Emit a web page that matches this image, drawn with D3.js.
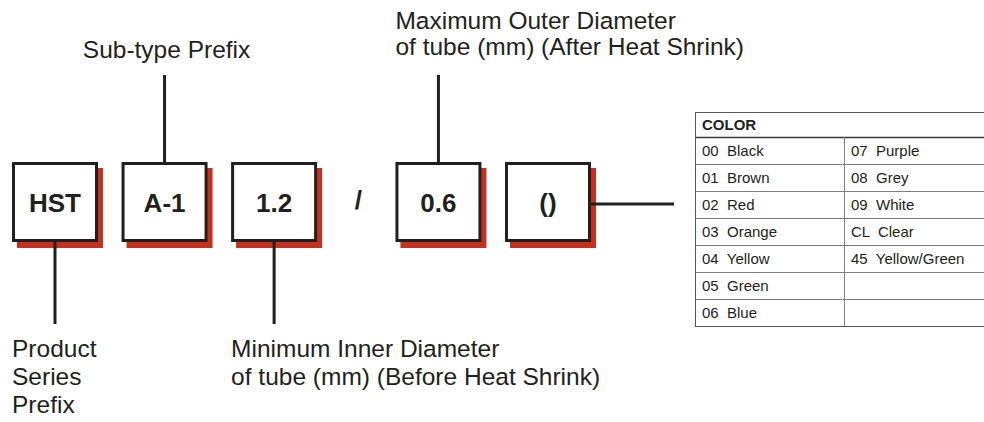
<!DOCTYPE html>
<html>
<head>
<meta charset="utf-8">
<script src="https://cdn.jsdelivr.net/npm/d3@7"></script>
<style>
    body { margin: 0; background: #fff; }
    svg { display: block; font-family: "Liberation Sans", Arial, Helvetica, sans-serif; }
</style>
</head>
<body>
<svg class="partno"></svg>
<script>
(function () {
    // part number segments, left to right
    const segments = ["HST", "A-1", "1.2", "0.6", "()"];
    const separator = "/";
    const separatorAfter = 2;

    // callouts: which segment, which side, label lines
    const calloutSegment = [0, 1, 2, 3];
    const calloutSide = ["below", "above", "below", "above"];
    const calloutLines = [
        ["Product", "Series", "Prefix"],
        ["Sub-type Prefix"],
        ["Minimum Inner Diameter", "of tube (mm) (Before Heat Shrink)"],
        ["Maximum Outer Diameter", "of tube (mm) (After Heat Shrink)"]
    ];

    // color code table
    const tableTitle = "COLOR";
    const colorCodesLeft = ["00  Black", "01  Brown", "02  Red", "03  Orange", "04  Yellow", "05  Green", "06  Blue"];
    const colorCodesRight = ["07  Purple", "08  Grey", "09  White", "CL  Clear", "45  Yellow/Green", "", ""];

    const width = 984, height = 422;
    const ink = "#231f20", shadow = "#c4321f";
    const boxW = 86, boxH = 80, boxTop = 162;
    const labelSize = 24.5;

    let svg = d3.select("svg.partno")
        .attr("width", width)
        .attr("height", height);

    // slot index -> box centre (gap of half a slot for the separator)
    let slot = function (i) { return i + (i > separatorAfter ? 0.5 : 0); };
    let x = d3.scaleLinear().domain([0, slot(segments.length - 1)]).range([55, 548]);

    let boxes = svg.append("g").attr("class", "boxes")
        .selectAll("g")
        .data(segments)
        .enter().append("g")
        .attr("transform", function (d, i) { return "translate(" + (x(slot(i)) - boxW / 2) + "," + boxTop + ")"; });

    boxes.append("rect")
        .attr("x", 5).attr("y", 6)
        .attr("width", boxW).attr("height", boxH)
        .attr("fill", shadow);

    boxes.append("rect")
        .attr("x", 1.5).attr("y", 1.5)
        .attr("width", boxW - 3).attr("height", boxH - 3)
        .attr("fill", "#fff")
        .attr("stroke", ink)
        .attr("stroke-width", 3);

    boxes.append("text")
        .attr("x", boxW / 2)
        .attr("y", 50)
        .attr("text-anchor", "middle")
        .attr("font-weight", "bold")
        .attr("font-size", 26)
        .attr("fill", ink)
        .text(function (d) { return d; });

    // separator slash
    svg.append("text")
        .attr("x", x(slot(separatorAfter) + 0.77))
        .attr("y", 209)
        .attr("text-anchor", "middle")
        .attr("font-weight", "bold")
        .attr("font-size", 26)
        .attr("fill", ink)
        .text(separator);

    // callout lines and labels
    let callouts = svg.append("g").attr("class", "callouts")
        .selectAll("g")
        .data(calloutSegment)
        .enter().append("g");

    callouts.append("line")
        .attr("x1", function (d) { return x(slot(d)); })
        .attr("x2", function (d) { return x(slot(d)); })
        .attr("y1", function (d, i) { return calloutSide[i] == "above" ? 75 : boxTop + boxH; })
        .attr("y2", function (d, i) { return calloutSide[i] == "above" ? boxTop : 324; })
        .attr("stroke", ink)
        .attr("stroke-width", 3);

    callouts.append("text")
        .attr("font-size", labelSize)
        .attr("fill", ink)
        .attr("text-anchor", function (d, i) { return calloutLines[i].length == 1 ? "middle" : "start"; })
        .attr("transform", function (d, i) {
            let lx = calloutLines[i].length == 1 ? x(slot(d)) + 2 : x(slot(d)) - boxW / 2;
            let ly = calloutSide[i] == "above" ? 58 - (calloutLines[i].length - 1) * 29 : 357;
            return "translate(" + lx + "," + ly + ")";
        })
        .selectAll("tspan")
        .data(function (d, i) { return calloutLines[i].map(function (t) { return { t: t, side: calloutSide[i] }; }); })
        .enter().append("tspan")
        .attr("x", 0)
        .attr("y", function (d, j) { return j * (d.side == "above" ? 26 : 28); })
        .text(function (d) { return d.t; });

    // connector from last box to the table
    let last = segments.length - 1;
    svg.append("line")
        .attr("x1", x(slot(last)) + boxW / 2)
        .attr("x2", 674)
        .attr("y1", boxTop + 42)
        .attr("y2", boxTop + 42)
        .attr("stroke", ink)
        .attr("stroke-width", 3);

    // color table
    const tLeft = 695, tRight = 990, tTop = 112, headH = 25, colSplit = 844;
    let rows = d3.range(colorCodesLeft.length);
    let y = d3.scaleBand().domain(rows).range([tTop + headH, 326]);

    let table = svg.append("g").attr("class", "color-table");

    table.selectAll("line.row")
        .data(rows)
        .enter().append("line")
        .attr("class", "row")
        .attr("x1", tLeft).attr("x2", tRight)
        .attr("y1", function (d) { return y(d) + 0.5; })
        .attr("y2", function (d) { return y(d) + 0.5; })
        .attr("stroke", function (d) { return d == 0 ? "#3a3a3a" : "#808080"; })
        .attr("stroke-width", function (d) { return d == 0 ? 1.5 : 1; });

    table.append("line")
        .attr("x1", colSplit + 0.5).attr("x2", colSplit + 0.5)
        .attr("y1", y(0)).attr("y2", y(rows.length - 1) + y.bandwidth())
        .attr("stroke", "#808080");

    table.append("rect")
        .attr("x", tLeft + 0.5).attr("y", tTop + 0.5)
        .attr("width", tRight - tLeft).attr("height", y(rows.length - 1) + y.bandwidth() - tTop)
        .attr("fill", "none")
        .attr("stroke", "#555");

    table.append("text")
        .attr("x", tLeft + 7)
        .attr("y", tTop + 18)
        .attr("font-weight", "bold")
        .attr("font-size", 15)
        .attr("fill", ink)
        .text(tableTitle);

    table.selectAll("text.left")
        .data(colorCodesLeft)
        .enter().append("text")
        .attr("class", "left")
        .attr("x", tLeft + 7)
        .attr("y", function (d, i) { return y(i) + 19; })
        .attr("font-size", 15)
        .attr("fill", ink)
        .style("white-space", "pre")
        .text(function (d) { return d; });

    table.selectAll("text.right")
        .data(colorCodesRight)
        .enter().append("text")
        .attr("class", "right")
        .attr("x", colSplit + 7)
        .attr("y", function (d, i) { return y(i) + 19; })
        .attr("font-size", 15)
        .attr("fill", ink)
        .style("white-space", "pre")
        .text(function (d) { return d; });
}());
</script>
</body>
</html>
